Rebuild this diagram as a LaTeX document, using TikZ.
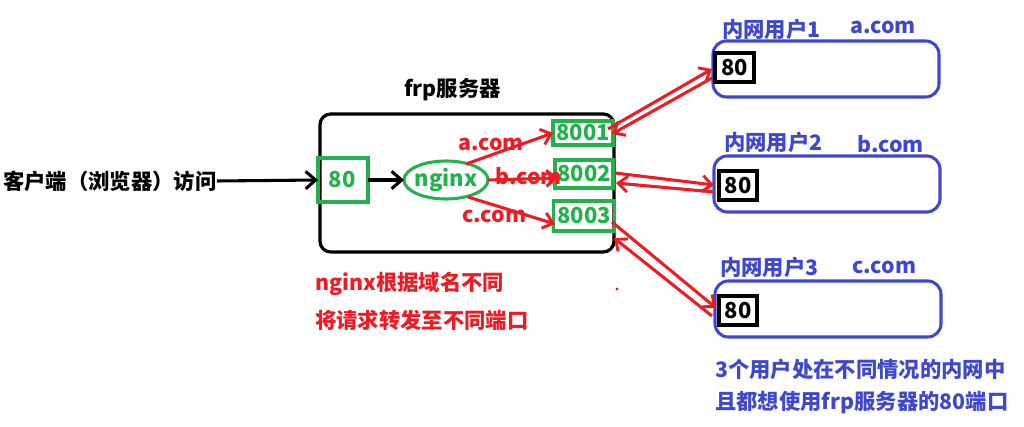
\documentclass[tikz,border=0pt]{standalone}
\usepackage{fontspec}
\setmainfont{Noto Sans CJK SC}
\usetikzlibrary{arrows.meta,shapes.geometric}
\definecolor{rd}{HTML}{ED1C24}
\definecolor{gn}{HTML}{22B14C}
\definecolor{bl}{HTML}{3F48CC}
\newcommand{\dnum}[1]{\raisebox{-1.2pt}{#1}}
\tikzset{
  x=0.75pt,y=-0.75pt,
  sz/.style 2 args={minimum width=#1*0.75pt,minimum height=#2*0.75pt,inner sep=0pt,outer sep=0pt},
  txt/.style={font=\fontsize{16pt}{18pt}\selectfont\bfseries,inner sep=0pt,anchor=west},
  rtxt/.style={txt,text=rd},
  btxt/.style={txt,text=bl},
  server/.style={draw=black,line width=2.4pt,rounded corners=8pt},
  gbox/.style={draw=gn,line width=2.3pt,text=gn,font=\fontsize{16.5pt}{18pt}\selectfont\bfseries},
  ubox/.style={draw=bl,line width=2.3pt,rounded corners=10pt},
  kbox/.style={draw=black,line width=2.4pt,text=black,font=\fontsize{16.5pt}{18pt}\selectfont\bfseries},
  karrow/.style={draw=black,line width=2.3pt,-{Straight Barb[length=7.5pt,width=13pt,line width=2.3pt]}},
  rarrow/.style={draw=rd,line width=2.3pt,-{Straight Barb[length=7pt,width=12pt,line width=2.2pt]}},
}
\begin{document}
\begin{tikzpicture}
\useasboundingbox (0,0) rectangle (1024,427);
% server
\node[server,sz={294}{138}] (srv) at (467,183) {};
\node[txt] (srvt) at (404,90) {frp服务器};
% client
\node[txt] (cli) at (3,181) {客户端（浏览器）访问};
% inside
\node[gbox,sz={50}{44}] (p80) at (343,180) {\hspace{-1pt}\dnum{80}};
\node[draw=gn,line width=2.3pt,ellipse,sz={84}{38},inner xsep=-8pt,inner ysep=-8pt,text=gn,font=\fontsize{16.5pt}{18pt}\selectfont\bfseries] (ng) at (446,180) {nginx};
\node[gbox,sz={60}{24}] (p1) at (583,133) {\dnum{8001}};
\node[gbox,sz={58}{28}] (p2) at (584,174) {\dnum{8002}};
\node[gbox,sz={61}{30}] (p3) at (584,216) {\dnum{8003}};
% labels
\node[rtxt] (la) at (458,144) {a.com};
\node[rtxt] (lb) at (495,176) {b.com};
\node[rtxt] (lc) at (462,216) {c.com};
\node[rtxt] (n1) at (315,284) {nginx根据域名不同};
\node[rtxt] (n2) at (315,320) {将请求转发至不同端口};
% users
\node[ubox,sz={226}{56}] (u1) at (826,69) {};
\node[ubox,sz={226}{56}] (u2) at (827,184) {};
\node[ubox,sz={226}{56}] (u3) at (828,309) {};
\node[kbox,sz={39}{29}] (k1) at (734.5,67.5) {80};
\node[kbox,sz={38}{29}] (k2) at (738,185.5) {80};
\node[kbox,sz={38}{29}] (k3) at (738,310.5) {80};
\node[btxt] (t1) at (722,29) {内网用户1};
\node[btxt] (d1) at (850,27) {a.com};
\node[btxt] (t2) at (724,142) {内网用户2};
\node[btxt] (d2) at (857,144) {b.com};
\node[btxt] (t3) at (720,267) {内网用户3};
\node[btxt] (d3) at (852,267) {c.com};
\node[btxt] (f1) at (715,369) {3个用户处在不同情况的内网中};
\node[btxt] (f2) at (715,403) {且都想使用frp服务器的80端口};
\fill[rd] (617,289) circle (1.3pt);
% black arrows
\draw[karrow] (cli.east) -- (p80.west);
\draw[karrow] (p80.east) -- (ng.west);
% inner red arrows
\draw[rarrow] ([shift={(20,-16)}]ng.center) -- (p1.west);
\draw[rarrow] (ng.east) -- ([shift={(3,4)}]p2.west);
\draw[rarrow] ([shift={(22,17)}]ng.center) -- ([shift={(1.5,8)}]p3.west);
% user arrows
\draw[rarrow] ([shift={(-5,-4)}]p1.east) -- ([shift={(-3,1.5)}]k1.west);
\draw[rarrow] ([shift={(-3,10.5)}]k1.west) -- ([shift={(-1,1)}]p1.east);
\draw[rarrow] ([shift={(2,-1)}]p2.east) -- ([shift={(-5,-0.5)}]k2.west);
\draw[rarrow] ([shift={(-5,6.5)}]k2.west) -- ([shift={(3,9)}]p2.east);
\draw[rarrow] ([shift={(-2.5,6)}]p3.east) -- ([shift={(-3,-2.5)}]k3.west);
\draw[rarrow] ([shift={(-7,5.5)}]k3.west) -- ([shift={(-0.5,22)}]p3.east);
\end{tikzpicture}
\end{document}
